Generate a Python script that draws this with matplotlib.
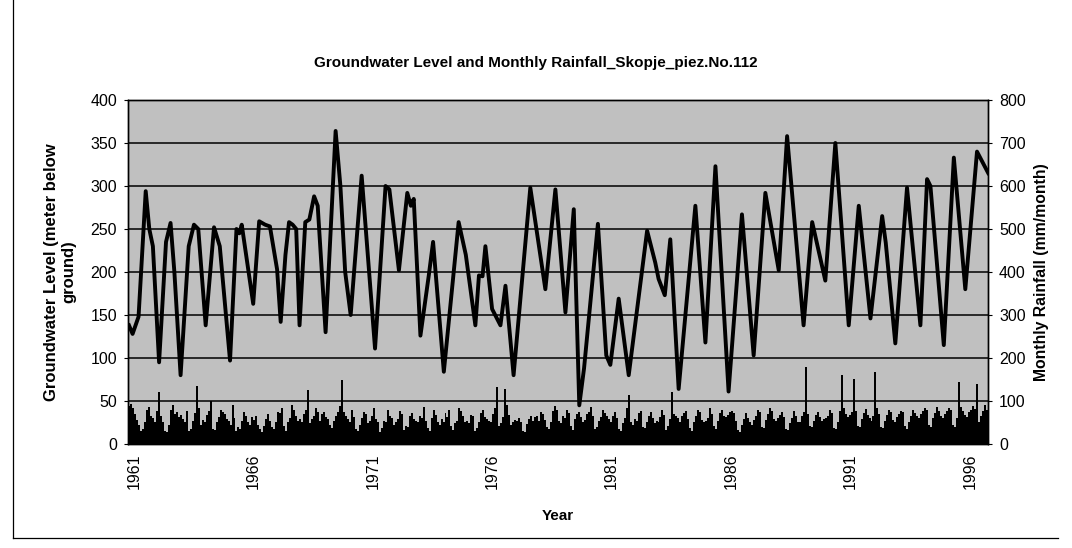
import numpy as np
import matplotlib
matplotlib.use("Agg")
import matplotlib.pyplot as plt
from matplotlib.lines import Line2D

plt.rcParams['font.family'] = ['Liberation Sans', 'DejaVu Sans']

# ---------------------------------------------------------------
# Datos
# ---------------------------------------------------------------
tick_labels = [str(y) for y in range(1961, 1997, 5)]

# Nivel freatico: puntos de giro (anio decimal, valor)
gw_year = [1961.00, 1961.15, 1961.40, 1961.70, 1961.85, 1962.00, 1962.26, 1962.55, 1962.74, 1962.90,
           1963.16, 1963.50, 1963.72, 1963.90, 1964.21, 1964.56, 1964.80, 1965.23, 1965.50, 1965.62,
           1965.72, 1966.20, 1966.45, 1966.70, 1966.90, 1967.20, 1967.35, 1967.55, 1967.70, 1967.85,
           1968.00, 1968.14, 1968.38, 1968.55, 1968.75, 1968.90, 1969.23, 1969.65, 1969.85, 1970.05,
           1970.28, 1970.74, 1971.30, 1971.74, 1971.90, 1972.30, 1972.65, 1972.80, 1972.92, 1973.20,
           1973.55, 1973.73, 1974.18, 1974.80, 1975.10, 1975.50, 1975.65, 1975.80, 1975.92, 1976.20,
           1976.55, 1976.76, 1977.10, 1977.80, 1978.43, 1978.85, 1979.27, 1979.62, 1979.85, 1980.05,
           1980.63, 1980.98, 1981.15, 1981.50, 1981.92, 1982.69, 1983.03, 1983.17, 1983.43, 1983.66,
           1984.01, 1984.71, 1985.13, 1985.55, 1986.10, 1986.66, 1987.15, 1987.64, 1988.20, 1988.55,
           1989.24, 1989.60, 1990.15, 1990.57, 1991.13, 1991.55, 1992.04, 1992.53, 1992.68, 1993.08,
           1993.57, 1994.13, 1994.41, 1994.55, 1995.11, 1995.53, 1996.01, 1996.50, 1996.97]
gw_level = [138, 128, 148, 294, 250, 230, 95, 235, 257, 200,
            80, 230, 255, 250, 138, 252, 230, 97, 250, 245,
            255, 163, 259, 255, 253, 203, 142, 220, 258, 255,
            250, 138, 258, 261, 288, 277, 130, 364, 300, 200,
            150, 312, 111, 300, 296, 202, 292, 277, 285, 126,
            196, 235, 84, 258, 220, 138, 196, 195, 230, 157,
            138, 184, 80, 298, 180, 296, 153, 273, 45, 88,
            256, 103, 92, 169, 80, 248, 211, 192, 173, 238,
            64, 277, 118, 323, 61, 267, 103, 292, 202, 358,
            138, 258, 190, 350, 138, 277, 146, 265, 234, 117,
            298, 138, 308, 300, 115, 333, 180, 340, 315]

# Lluvia mensual (mm/mes), una fila por anio 1961..1996
rain_rows = [
    [88, 92, 84, 70, 56, 44, 30, 36, 50, 80, 86, 64],
    [60, 52, 76, 122, 66, 50, 30, 28, 44, 80, 90, 70],
    [74, 62, 68, 58, 52, 76, 30, 36, 54, 72, 136, 84],
    [44, 56, 50, 68, 76, 100, 36, 32, 50, 62, 80, 74],
    [70, 58, 54, 44, 90, 60, 30, 40, 36, 54, 74, 64],
    [50, 44, 62, 56, 66, 44, 34, 28, 42, 58, 70, 54],
    [40, 36, 50, 74, 72, 84, 42, 30, 52, 60, 90, 78],
    [64, 54, 58, 52, 70, 80, 126, 48, 58, 66, 84, 74],
    [54, 70, 74, 62, 58, 44, 38, 54, 64, 74, 88, 148],
    [74, 64, 58, 50, 80, 62, 34, 30, 44, 60, 74, 70],
    [48, 54, 66, 84, 58, 52, 28, 38, 54, 50, 78, 64],
    [60, 44, 52, 58, 76, 70, 32, 42, 40, 64, 72, 58],
    [54, 50, 64, 60, 86, 54, 38, 30, 60, 78, 68, 52],
    [44, 58, 50, 72, 62, 78, 42, 32, 48, 54, 84, 76],
    [66, 52, 54, 48, 68, 64, 30, 38, 50, 72, 80, 62],
    [58, 54, 52, 70, 84, 132, 42, 48, 62, 128, 90, 68],
    [44, 50, 56, 54, 60, 52, 30, 28, 46, 58, 66, 54],
    [62, 66, 54, 74, 70, 56, 40, 36, 50, 76, 88, 80],
    [54, 48, 64, 60, 78, 72, 42, 32, 58, 70, 74, 62],
    [50, 56, 70, 74, 86, 64, 36, 40, 54, 62, 78, 72],
    [64, 58, 52, 66, 74, 60, 34, 30, 48, 60, 84, 114],
    [52, 44, 58, 54, 72, 76, 40, 38, 52, 66, 74, 60],
    [48, 54, 50, 62, 80, 68, 32, 42, 58, 120, 70, 64],
    [60, 52, 66, 72, 76, 58, 38, 30, 50, 64, 78, 74],
    [56, 50, 54, 60, 84, 70, 42, 34, 54, 72, 80, 66],
    [62, 68, 74, 76, 72, 54, 32, 28, 44, 58, 72, 60],
    [50, 44, 56, 64, 78, 74, 40, 38, 56, 70, 84, 76],
    [58, 54, 60, 68, 74, 62, 36, 32, 48, 60, 76, 64],
    [52, 50, 64, 74, 180, 70, 42, 40, 54, 68, 74, 62],
    [54, 58, 60, 66, 80, 72, 38, 36, 52, 76, 160, 84],
    [70, 62, 68, 74, 152, 76, 42, 40, 58, 72, 82, 68],
    [60, 54, 66, 168, 84, 70, 40, 38, 54, 68, 80, 74],
    [56, 52, 62, 70, 76, 74, 42, 36, 50, 64, 78, 72],
    [64, 60, 70, 76, 84, 78, 44, 40, 60, 72, 86, 76],
    [64, 60, 70, 76, 84, 78, 44, 40, 60, 144, 86, 76],
    [68, 62, 74, 80, 88, 82, 140, 50, 64, 76, 90, 80],
]

# ---------------------------------------------------------------
# Preparacion
# ---------------------------------------------------------------
rain = np.array(rain_rows, dtype=float).ravel()
n_months = len(rain)
month_idx = np.arange(n_months)
gw_x = (np.array(gw_year) - 1961.0) * 12.0
# etiquetas de Excel quedan algo a la derecha del inicio de cada anio
tick_pos = [(int(t) - 1961) * 12 + 2.5 for t in tick_labels]

fig = plt.figure(figsize=(10.72, 5.48), dpi=100)
fig.patch.set_facecolor('white')

ax = fig.add_axes([0.1194, 0.1898, 0.8022, 0.6277])
ax2 = ax.twinx()

# Fondo gris en el eje de atras, linea encima
ax.set_zorder(ax2.get_zorder() + 1)
ax.patch.set_visible(False)
ax2.patch.set_visible(True)
ax2.patch.set_facecolor('#c0c0c0')

ax2.bar(month_idx, rain, width=1.0, color='black', linewidth=0)
ax2.set_ylim(0, 800)
ax2.set_yticks(np.arange(0, 801, 100))

ax.plot(gw_x, gw_level, color='black', linewidth=2.8, solid_joinstyle='round')
ax.set_ylim(0, 400)
ax.set_yticks(np.arange(0, 401, 50))
ax.set_xlim(-0.5, n_months - 0.5)
ax.set_xticks(tick_pos)
ax.set_xticklabels(tick_labels, rotation=90)
ax.grid(axis='y', color='black', linewidth=1.1)

for a in (ax, ax2):
    for sp in a.spines.values():
        sp.set_color('black')
        sp.set_linewidth(1.0)
    a.tick_params(axis='both', length=3, labelsize=11.5, colors='black', pad=5)
ax.tick_params(axis='x', length=0, pad=7)

ax.set_ylabel('Groundwater Level (meter below\nground)', fontsize=12, fontweight='bold', labelpad=10)
ax2.set_ylabel('Monthly Rainfall (mm/month)', fontsize=11.3, fontweight='bold', labelpad=6)
ax.set_xlabel('Year', fontsize=11, fontweight='bold', labelpad=14)

fig.text(0.5, 0.885, 'Groundwater Level and Monthly Rainfall_Skopje_piez.No.112',
         ha='center', va='center', fontsize=11, fontweight='bold')

# Marco del area del grafico (bordes izquierdo e inferior visibles en el escaneo)
fx0, fy0, fx1 = 13 / 1072, 10 / 548, 1058 / 1072
fig.add_artist(Line2D([fx0, fx0], [fy0, 1.0], transform=fig.transFigure, color='black', linewidth=0.9))
fig.add_artist(Line2D([fx0, fx1], [fy0, fy0], transform=fig.transFigure, color='black', linewidth=0.9))

fig.savefig('out.png', dpi=100, facecolor='white')
